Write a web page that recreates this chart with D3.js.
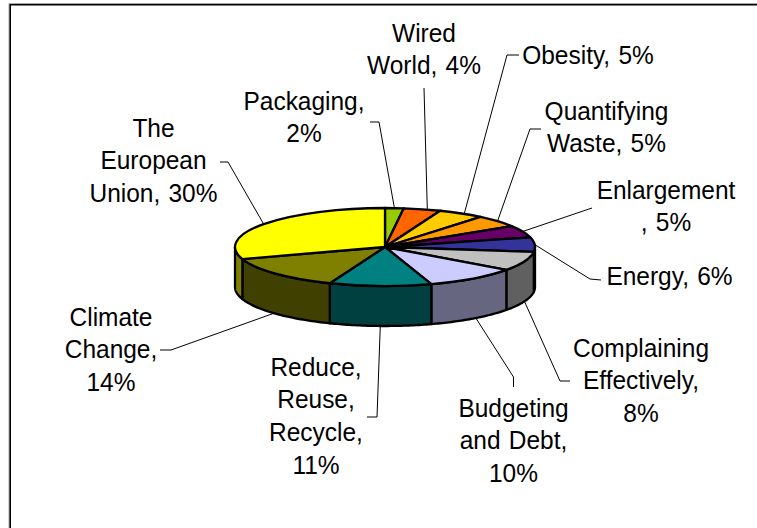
<!DOCTYPE html>
<html><head><meta charset="utf-8">
<script src="https://cdn.jsdelivr.net/npm/d3@7/dist/d3.min.js"></script>
<style>html,body{margin:0;padding:0;background:#fff;overflow:hidden}svg{display:block}</style>
</head><body><svg id="c" width="757" height="528"></svg>
<script>
// Data, clockwise from 12 o'clock
const categories = ["Packaging","Wired World","Obesity","Quantifying Waste","Enlargement","Energy","Complaining Effectively","Budgeting and Debt","Reduce, Reuse, Recycle","Climate Change","The European Union"];
const shares = [2,4,5,5,5,6,8,10,11,14,30];
const topColors = ["#99CC00","#FF6600","#FFCC00","#FF9900","#660066","#333399","#C0C0C0","#CCCCFF","#008080","#808000","#FFFF00"];
const labelLines = [["Packaging,","2%"],["Wired","World, 4%"],["Obesity, 5%"],["Quantifying","Waste, 5%"],["Enlargement",", 5%"],["Energy, 6%"],["Complaining","Effectively,","8%"],["Budgeting","and Debt,","10%"],["Reduce,","Reuse,","Recycle,","11%"],["Climate","Change,","14%"],["The","European","Union, 30%"]];

// Layout (not data)
const W = 757, H = 528, cx = 385, cy = 247, rx = 150, ry = 39, depth = 40;
const fontSize = 25.5, xSquash = 0.96, lineGap = 32.8;
const labelCenter = [[304,100.5],[424,32.5],[588,54.5],[606.5,110.5],[666,189.5],[669.5,275.5],[641,347.5],[513.5,407.5],[316,366.5],[111,316.5],[153.5,127.5]];
const leaderElbows = [
  [[370,122],[379,122]], [[424,88]], [[519,55],[507,55]], [[541,129],[530,129]],
  [[592,208]], [[601,280],[590,279]], [[570,381],[560,381]], [[513.5,387],[513.5,377]],
  [[367,417],[377,417]], [[160,350],[171,350]], [[220,162],[228,162]]
];
const leaderNudge = [0,5,3,0,0,0,0,3,0,-3,0];

const svg = d3.select("#c");
const slices = d3.pie().sort(null).value(d => d)(shares);
const ex = a => cx + rx * Math.sin(a), ey = a => cy - ry * Math.cos(a);
const line = d3.line();
const halfTone = c => { const k = d3.rgb(c); return d3.rgb(k.r/2, k.g/2, k.b/2); };

// chart frame: open at the right and bottom
svg.append("path").attr("d","M9 528V3.5H757").attr("fill","none").attr("stroke","#aaa").attr("stroke-width",1);
svg.append("path").attr("d","M10.2 528V4.7H757").attr("fill","none").attr("stroke","#000").attr("stroke-width",1.6);

// leader lines
const frontLo = Math.PI/2, frontHi = 3*Math.PI/2;
slices.forEach((s,i) => {
  const mid = (s.startAngle+s.endAngle)/2;
  const onWall = mid > frontLo && mid < frontHi;
  const end = [ex(mid)+leaderNudge[i], ey(mid)+(onWall?depth:0)];
  svg.append("path").attr("d", line([...leaderElbows[i], end]))
    .attr("fill","none").attr("stroke","#000").attr("stroke-width",1);
});

// walls
const wall = svg.append("g");
slices.forEach((s,i) => {
  const a0 = Math.max(s.startAngle, frontLo), a1 = Math.min(s.endAngle, frontHi);
  if (a1 <= a0) return;
  const arcTop = d3.range(0,41).map(k => a0+(a1-a0)*k/40);
  const pts = arcTop.map(a => [ex(a),ey(a)]).concat(arcTop.slice().reverse().map(a => [ex(a),ey(a)+depth]));
  wall.append("path").attr("d", line(pts)+"Z")
    .attr("fill", halfTone(topColors[i]))
    .attr("stroke","#000").attr("stroke-width",2.3).attr("stroke-linejoin","round");
});

// top face
const arc = d3.arc().innerRadius(0).outerRadius(rx);
svg.append("g").attr("transform",`translate(${cx},${cy}) scale(1,${ry/rx})`)
  .selectAll("path").data(slices).join("path")
  .attr("d",arc).attr("fill",(d,i)=>topColors[i])
  .attr("stroke","#000").attr("stroke-width",2.3).attr("stroke-linejoin","round")
  .attr("vector-effect","non-scaling-stroke");

// labels
labelLines.forEach((lines,i) => {
  lines.forEach((t,k) => {
    svg.append("text")
      .attr("transform",`translate(${labelCenter[i][0]},${labelCenter[i][1]+k*lineGap}) scale(${xSquash},1)`)
      .attr("dy","0.36em").attr("text-anchor","middle").attr("word-spacing",1.5)
      .attr("font-family","'Liberation Sans',Arial,sans-serif").attr("font-size",fontSize)
      .attr("fill","#000").text(t);
  });
});
</script></body></html>
